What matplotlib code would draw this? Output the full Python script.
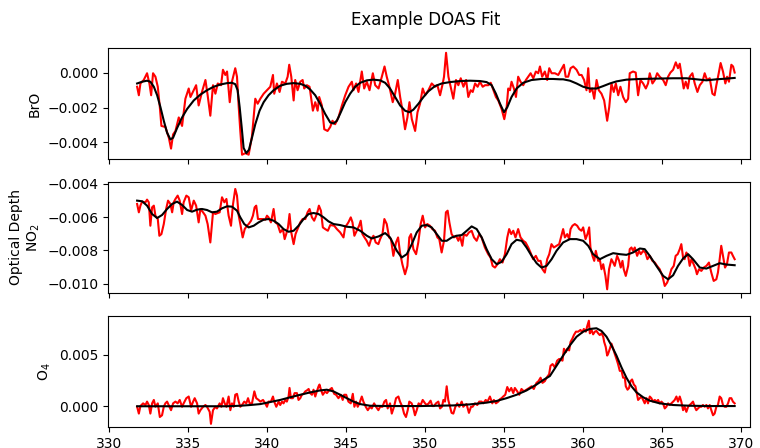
import numpy as np
import matplotlib
matplotlib.use("Agg")
import matplotlib.pyplot as plt

# values; y values in units of 1e-3
bro_meas_x = [331.75, 331.86, 331.96, 332.17, 332.38, 332.53, 332.64, 332.76, 332.91, 333.06,
              333.19, 333.29, 333.54, 333.76, 333.90, 334.03, 334.18, 334.39, 334.60, 334.81,
              335.02, 335.13, 335.34, 335.49, 335.65, 335.86, 336.08, 336.22, 336.39, 336.56,
              336.71, 336.86, 337.07, 337.19, 337.34, 337.45, 337.62, 337.76, 337.97, 338.08,
              338.19, 338.29, 338.40, 338.61, 338.82, 339.03, 339.24, 339.39, 339.56, 339.77,
              339.98, 340.19, 340.36, 340.44, 340.61, 340.78, 340.93, 341.14, 341.29, 341.39,
              341.52, 341.67, 341.77, 341.92, 342.09, 342.24, 342.34, 342.51, 342.68, 342.89,
              343.04, 343.19, 343.29, 343.46, 343.61, 343.82, 343.99,
              344.13, 344.30, 344.51, 344.73, 344.94, 345.15, 345.36, 345.46, 345.63, 345.78,
              345.99, 346.14, 346.31, 346.48, 346.69, 346.84, 347.05, 347.26, 347.43, 347.57,
              347.74, 347.95, 348.10, 348.27, 348.42, 348.57, 348.73, 348.88, 349.01, 349.16,
              349.37, 349.52, 349.68, 349.85, 350.00, 350.21, 350.42, 350.63, 350.78, 350.95,
              351.12, 351.20, 351.33, 351.48, 351.62, 351.79, 351.96, 352.11, 352.26, 352.43,
              352.60, 352.74, 352.89, 353.02, 353.17, 353.33, 353.48, 353.65, 353.80, 354.01,
              354.16, 354.33, 354.49, 354.64, 354.85, 355.02, 355.17, 355.27, 355.38, 355.48,
              355.63, 355.76, 355.90, 356.05, 356.22, 356.39, 356.54, 356.69, 356.86, 357.02,
              357.17, 357.28, 357.42, 357.59, 357.74, 357.87, 358.02, 358.23, 358.44,
              358.80, 358.91, 359.07, 359.22, 359.39, 359.60, 359.77, 359.92, 360.08, 360.23,
              360.34, 360.44, 360.59, 360.72, 360.87, 361.01, 361.18, 361.35, 361.54, 361.67,
              361.81, 361.96, 362.09, 362.24, 362.38, 362.55, 362.72, 362.87, 362.97, 363.18,
              363.35, 363.50, 363.65, 363.82, 363.99, 364.13, 364.24, 364.41, 364.56, 364.71,
              364.87, 365.09, 365.25, 365.40, 365.55, 365.72, 365.89, 366.03, 366.14, 366.27,
              366.39, 366.52, 366.65, 366.77, 366.94, 367.09, 367.26, 367.41, 367.58, 367.72,
              367.87, 368.04, 368.21, 368.35, 368.46, 368.61, 368.73, 368.88, 369.03, 369.14,
              369.26, 369.41, 369.52, 369.62]
bro_meas = [-0.80, -1.29, -0.61, -0.41, -0.02, -0.61, -1.29, -0.02, -0.22, -0.80,
            -1.98, -3.06, -3.12, -3.74, -4.37, -3.55, -3.35, -2.57, -3.06, -1.49,
            -0.90, -1.39, -1.00, -0.71, -1.88, -1.10, -0.41, -1.29, -2.47, -0.71,
            -1.20, -0.61, -0.71, 0.18, -0.12, 0.08, -1.69, -0.51, 0.27, -0.22,
            -1.98, -3.35, -4.72, -4.63, -4.72, -3.65, -1.49, -1.78, -1.49, -1.20,
            -1.00, -0.80, -0.12, -1.20, -0.61, -1.10, -0.51, -0.61, -0.22, 0.47,
            -0.22, -1.59, -0.41, -1.00, -0.51, -0.41, -0.90, -0.71, -0.80, -2.18,
            -1.69, -2.18, -1.39, -1.88, -3.25, -3.35, -3.12,
            -2.76, -2.96, -2.57, -1.88, -1.29, -0.80, -0.51, -1.00, -0.61, -1.10,
            0.08, -0.90, -0.51, -1.00, -0.02, -0.71, -0.90, -0.22, 0.37, -0.22,
            -0.80, -1.69, -1.20, -0.41, -1.39, -2.18, -3.25, -2.57, -1.69, -2.67,
            -3.35, -2.27, -1.78, -0.90, -1.29, -1.00, -0.61, -0.80, -0.71, -1.29,
            -0.61, -0.22, 1.16, -0.22, -0.80, -1.49, -0.41, -0.71, -0.31, -0.80,
            -0.41, -1.39, -1.00, -1.10, -0.61, -0.80, -0.51, -0.80, -0.71, -0.71,
            -0.57, -1.00, -1.39, -1.59, -2.08, -2.67, -1.98, -0.90, -1.00, -0.51,
            -0.90, -1.39, -0.22, -0.51, -0.71, -0.41, -0.22, -0.02, -0.31, 0.08,
            -0.02, 0.37, -0.22, 0.08, -0.41, 0.27, -0.02, -0.02, -0.12,
            0.47, -0.22, -0.22, 0.27, 0.37, 0.18, -0.12, -0.12, -0.41, -1.00,
            0.27, -1.10, -0.90, -1.49, -0.41, -1.00, -1.20, -1.59, -2.76, -1.98,
            -0.61, -1.10, -0.61, -1.29, -0.80, -1.39, -1.69, -1.49, -0.02, 0.08,
            0.02, -1.29, -0.41, -0.61, -0.90, -0.61, -0.02, -0.61, -0.41, -0.02,
            -0.22, -0.41, -0.71, -0.22, 0.02, 0.18, 0.61, 0.27, 0.53, -0.22,
            -0.90, -0.51, -0.90, -0.22, -0.02, -0.61, -1.10, -0.71, -0.51, -0.02,
            -0.41, -0.31, -1.20, -1.29, -0.71, -0.02, 0.57, 0.08, -0.61, -0.22,
            -0.51, 0.47, 0.37, 0.02]

bro_fit_x = [331.75, 332.07, 332.38, 332.59, 332.81, 333.02, 333.23, 333.44, 333.65, 333.86,
             334.03, 334.28, 334.60, 334.92, 335.34, 335.76, 336.18, 336.60, 337.03, 337.45,
             337.76, 337.97, 338.12, 338.25, 338.38, 338.50, 338.67, 338.84, 339.03, 339.24,
             339.51, 339.77, 340.08, 340.40, 340.82, 341.24, 341.67, 342.09, 342.41, 342.72,
             343.04, 343.35, 343.67, 343.99, 344.20, 344.41, 344.66, 344.94, 345.25, 345.57,
             345.89, 346.31, 346.73, 347.15, 347.47, 347.78, 348.10, 348.42, 348.73, 349.01,
             349.26, 349.58, 349.90, 350.21, 350.63, 351.06, 351.58, 352.22, 352.85, 353.48,
             353.90, 354.22, 354.49, 354.75, 355.00, 355.21, 355.48, 355.80, 356.22, 356.75,
             357.38, 358.12, 358.54, 358.75, 359.18, 359.60, 360.02, 360.44, 360.87, 361.29,
             361.71, 362.13, 362.76, 363.61, 364.66, 365.72, 366.56, 367.20, 367.83, 368.46,
             369.10, 369.62]
bro_fit = [-0.61, -0.51, -0.45, -0.51, -0.80, -1.29, -1.98, -2.76, -3.45, -3.84,
           -3.74, -3.19, -2.57, -2.08, -1.59, -1.25, -1.00, -0.80, -0.67, -0.59,
           -0.57, -0.65, -1.00, -1.98, -3.16, -4.33, -4.63, -4.43, -3.74, -2.96,
           -2.18, -1.69, -1.29, -1.00, -0.74, -0.63, -0.59, -0.63, -0.74, -0.96,
           -1.29, -1.78, -2.37, -2.86, -2.92, -2.76, -2.27, -1.69, -1.20, -0.80,
           -0.57, -0.43, -0.39, -0.43, -0.57, -0.90, -1.39, -1.88, -2.18, -2.27,
           -2.12, -1.78, -1.39, -1.06, -0.76, -0.61, -0.53, -0.47, -0.45, -0.47,
           -0.53, -0.71, -1.20, -1.78, -2.27, -1.98, -1.39, -0.90, -0.57, -0.41,
           -0.35, -0.35, -0.37, -0.37, -0.45, -0.61, -0.80, -0.90, -0.90, -0.76,
           -0.61, -0.49, -0.39, -0.35, -0.33, -0.31, -0.31, -0.37, -0.43, -0.37,
           -0.33, -0.29]

no2_meas_x = [331.75, 331.86, 331.96, 332.07, 332.28, 332.38, 332.49, 332.59, 332.70, 332.81,
              332.91, 333.06, 333.16, 333.29, 333.44, 333.59, 333.71, 333.86, 333.97, 334.07,
              334.18, 334.32, 334.45, 334.60, 334.70, 334.87, 335.02, 335.17, 335.34, 335.49,
              335.65, 335.76, 335.93, 336.08, 336.22, 336.39, 336.56, 336.71, 336.86, 336.98,
              337.13, 337.28, 337.41, 337.55, 337.70, 337.83, 337.97, 338.08, 338.19, 338.29,
              338.44, 338.57, 338.71, 338.82, 338.97, 339.09, 339.20, 339.30, 339.41, 339.56,
              339.73, 339.87, 339.98, 340.08, 340.23, 340.40, 340.51, 340.65, 340.82, 340.99,
              341.10, 341.20, 341.31, 341.41, 341.52, 341.67, 341.79, 341.92, 342.09, 342.24,
              342.41, 342.55, 342.68, 342.83, 342.97, 343.14, 343.27, 343.40, 343.52, 343.67,
              343.84, 343.99,
              344.24, 344.41, 344.62, 344.83, 344.93, 345.14, 345.29, 345.40, 345.52, 345.67,
              345.82, 345.92, 346.03, 346.16, 346.30, 346.45, 346.58, 346.73, 346.87, 347.04,
              347.15, 347.30, 347.42, 347.57, 347.72, 347.84, 347.99, 348.16, 348.29, 348.41,
              348.56, 348.73, 348.88, 349.00, 349.11, 349.26, 349.43, 349.57, 349.72, 349.85,
              350.00, 350.14, 350.31, 350.46, 350.63, 350.78, 350.90, 351.05, 351.20, 351.32,
              351.43, 351.54, 351.68, 351.83, 351.96, 352.11, 352.21, 352.36, 352.46, 352.63,
              352.78, 352.95, 353.10, 353.27, 353.43, 353.58, 353.79, 354.00, 354.15, 354.28,
              354.43, 354.59, 354.74, 354.91, 355.06, 355.21, 355.33, 355.46, 355.59, 355.73,
              355.90, 356.05, 356.22, 356.37, 356.54, 356.68, 356.85, 357.02, 357.17, 357.32,
              357.44, 357.59, 357.74, 357.87, 358.01, 358.16, 358.33, 358.50,
              358.75, 358.86, 359.01, 359.13, 359.22, 359.34, 359.49, 359.64, 359.77, 359.91,
              360.02, 360.17, 360.29, 360.40, 360.48, 360.61, 360.72, 360.82, 360.97, 361.07,
              361.18, 361.29, 361.43, 361.54, 361.66, 361.81, 361.92, 362.02, 362.17, 362.30,
              362.40, 362.51, 362.59, 362.72, 362.87, 362.97, 363.08, 363.18, 363.29, 363.44,
              363.56, 363.67, 363.82, 363.96, 364.09, 364.24, 364.41, 364.56, 364.70, 364.87,
              365.04, 365.19, 365.34, 365.46, 365.61, 365.76, 365.88, 366.01, 366.14, 366.24,
              366.35, 366.45, 366.56, 366.67, 366.77, 366.88, 367.02, 367.15, 367.23, 367.36,
              367.51, 367.66, 367.83, 367.99, 368.14, 368.29, 368.46, 368.56, 368.67, 368.77,
              368.88, 369.01, 369.13, 369.26, 369.41, 369.51, 369.62]
no2_meas = [-5.22, -5.72, -5.32, -5.08, -5.12, -4.96, -5.12, -6.52, -5.42, -5.32,
            -5.92, -6.12, -7.12, -7.02, -6.42, -5.52, -5.02, -5.22, -5.72, -5.12,
            -4.92, -4.72, -5.02, -5.82, -5.12, -4.72, -4.82, -5.62, -5.02, -5.32,
            -6.32, -5.52, -5.72, -5.92, -6.42, -7.52, -5.72, -5.82, -5.76, -5.72,
            -4.82, -5.12, -4.92, -5.92, -6.52, -5.22, -4.32, -4.72, -5.92, -6.42,
            -7.22, -6.72, -6.52, -6.42, -6.22, -5.92, -5.42, -5.32, -6.12, -6.12,
            -6.12, -6.16, -5.92, -6.02, -6.32, -5.52, -6.32, -6.42, -6.92, -6.72,
            -7.32, -7.02, -6.62, -5.82, -6.92, -7.62, -7.02, -6.72, -6.32, -6.12,
            -6.12, -5.72, -5.52, -6.02, -6.22, -5.82, -5.32, -5.62, -6.62, -6.72,
            -6.82, -6.48,
            -6.52, -6.72, -6.92, -7.22, -6.62, -6.32, -6.02, -6.32, -7.12, -6.82,
            -6.52, -6.22, -7.02, -7.22, -7.42, -7.72, -7.32, -7.12, -7.52, -7.62,
            -7.32, -7.02, -6.12, -6.42, -7.22, -7.32, -8.32, -7.52, -7.22, -8.12,
            -8.82, -9.42, -8.92, -7.22, -7.02, -7.92, -8.22, -7.52, -6.42, -5.92,
            -6.62, -6.42, -6.52, -6.72, -6.82, -7.22, -7.32, -8.12, -7.42, -5.72,
            -5.62, -6.32, -7.02, -7.22, -7.12, -7.42, -7.12, -7.72, -7.02, -7.12,
            -6.92, -6.82, -7.22, -7.42, -7.02, -7.22, -7.82, -8.22, -8.42, -8.92,
            -9.02, -8.82, -8.52, -8.72, -8.22, -7.22, -6.72, -7.02, -6.82, -7.22,
            -6.72, -7.22, -7.42, -7.52, -7.82, -8.12, -8.52, -8.32, -8.62, -8.62,
            -9.12, -9.32, -8.52, -8.22, -7.62, -7.82, -7.72, -7.62,
            -6.72, -7.22, -7.02, -7.32, -6.72, -6.52, -6.42, -6.52, -6.72, -6.82,
            -6.62, -7.32, -7.02, -6.62, -7.82, -8.32, -8.62, -8.02, -8.62, -8.52,
            -9.12, -8.82, -9.52, -10.32, -9.12, -8.52, -8.72, -8.92, -8.32, -8.62,
            -9.02, -8.62, -9.12, -9.52, -8.92, -7.92, -7.82, -8.02, -7.82, -8.32,
            -8.02, -8.22, -8.02, -8.12, -8.52, -8.32, -8.62, -8.72, -8.92, -9.12,
            -9.52, -10.12, -9.92, -9.62, -9.12, -8.92, -8.32, -8.22, -7.92, -7.62,
            -8.42, -8.52, -8.12, -8.32, -8.92, -8.52, -8.82, -9.12, -9.42, -9.12,
            -9.22, -9.02, -8.92, -8.72, -9.32, -9.82, -9.72, -9.32, -8.52, -7.72,
            -8.32, -9.02, -8.82, -8.12, -8.12, -8.32, -8.52]

no2_fit_x = [331.75, 332.07, 332.38, 332.70, 333.02, 333.33, 333.65, 333.97, 334.28, 334.60,
             334.92, 335.23, 335.55, 335.86, 336.18, 336.50, 336.81, 337.13, 337.45, 337.76,
             338.08, 338.29, 338.54, 338.82, 339.14, 339.45, 339.77, 340.08, 340.40, 340.72,
             341.03, 341.35, 341.67, 341.98, 342.30, 342.62, 342.93, 343.25, 343.57, 343.88,
             344.20, 344.62, 345.04, 345.46, 345.89, 346.31, 346.62, 347.05, 347.47, 347.78,
             348.21, 348.52, 348.84, 349.16, 349.47, 349.79, 350.11, 350.42, 350.74, 351.06,
             351.37, 351.69, 352.00, 352.32, 352.64, 352.95, 353.27, 353.59, 353.90, 354.22,
             354.54, 354.85, 355.17, 355.48, 355.80, 356.12, 356.43, 356.75, 357.07, 357.38,
             357.70, 358.02, 358.33, 358.75, 359.18, 359.60, 360.02, 360.34, 360.65, 361.08,
             361.50, 361.92, 362.34, 362.76, 363.18, 363.61, 363.92, 364.24, 364.66, 365.09,
             365.40, 365.72, 366.03, 366.35, 366.67, 366.98, 367.41, 367.83, 368.25, 368.67,
             369.10, 369.62]
no2_fit = [-5.02, -5.06, -5.32, -5.82, -6.06, -5.88, -5.52, -5.22, -5.08, -5.28,
           -5.58, -5.68, -5.56, -5.52, -5.58, -5.72, -5.68, -5.48, -5.36, -5.38,
           -5.62, -6.02, -6.42, -6.62, -6.52, -6.32, -6.16, -6.12, -6.22, -6.42,
           -6.72, -6.88, -6.82, -6.52, -6.12, -5.82, -5.76, -5.82, -6.02, -6.26,
           -6.42, -6.48, -6.58, -6.62, -6.82, -7.12, -7.28, -7.16, -6.96, -7.22,
           -8.02, -8.42, -8.22, -7.62, -6.92, -6.52, -6.48, -6.62, -7.02, -7.42,
           -7.42, -7.22, -7.12, -7.08, -6.82, -6.56, -6.72, -7.22, -7.92, -8.52,
           -8.82, -8.68, -8.22, -7.62, -7.36, -7.42, -7.82, -8.32, -8.76, -9.02,
           -8.92, -8.52, -8.02, -7.52, -7.32, -7.32, -7.42, -7.72, -8.22, -8.52,
           -8.32, -8.16, -8.22, -8.26, -8.12, -7.88, -7.92, -8.32, -8.92, -9.52,
           -9.72, -9.48, -8.92, -8.48, -8.22, -8.52, -9.02, -9.08, -8.92, -8.76,
           -8.84, -8.88]

o4_meas_x = [331.75, 331.86, 331.96, 332.13, 332.28, 332.38, 332.49, 332.59, 332.70, 332.81,
             332.91, 333.06, 333.19, 333.33, 333.44, 333.54, 333.65, 333.80, 333.90, 334.03,
             334.18, 334.32, 334.45, 334.60, 334.70, 334.87, 335.02, 335.17, 335.30, 335.40,
             335.55, 335.65, 335.76, 335.93, 336.08, 336.18, 336.35, 336.43, 336.56, 336.71,
             336.81, 336.98, 337.09, 337.19, 337.30, 337.41, 337.55, 337.66, 337.76, 337.87,
             337.97, 338.08, 338.19, 338.29, 338.40, 338.54, 338.67, 338.78, 338.88, 339.03,
             339.18, 339.30, 339.45, 339.56, 339.73, 339.87, 339.98, 340.08, 340.23, 340.36,
             340.44, 340.57, 340.72, 340.82, 340.93, 341.03, 341.14, 341.24, 341.35, 341.41,
             341.50, 341.62, 341.73, 341.88, 341.98, 342.09, 342.19, 342.30, 342.41, 342.51,
             342.62, 342.72, 342.83, 342.93, 343.04, 343.14, 343.25, 343.31, 343.40, 343.52,
             343.67, 343.78, 343.95,
             344.09, 344.24, 344.36, 344.51, 344.66, 344.78, 344.87, 345.00, 345.14, 345.29,
             345.42, 345.52, 345.63, 345.73, 345.84, 345.99, 346.09, 346.24, 346.37, 346.51,
             346.62, 346.77, 346.89, 347.04, 347.15, 347.30, 347.42, 347.53, 347.63, 347.78,
             347.89, 348.03, 348.16, 348.31, 348.41, 348.56, 348.67, 348.79, 348.90, 349.00,
             349.15, 349.26, 349.36, 349.47, 349.59, 349.72, 349.85, 350.00, 350.10, 350.23,
             350.35, 350.46, 350.57, 350.69, 350.84, 350.95, 351.07, 351.16, 351.26, 351.37,
             351.47, 351.58, 351.68, 351.79, 351.92, 352.04, 352.17, 352.32, 352.42, 352.53,
             352.63, 352.78, 352.91, 353.01, 353.16, 353.31, 353.43, 353.58, 353.69, 353.84,
             353.96, 354.11, 354.26, 354.36, 354.49, 354.64, 354.74, 354.85, 354.95, 355.08,
             355.21, 355.33, 355.46, 355.59, 355.69, 355.84, 355.97, 356.11, 356.26, 356.43,
             356.60, 356.75, 356.89, 357.06, 357.19, 357.32, 357.44, 357.59, 357.70, 357.86,
             357.95, 358.08, 358.22, 358.37, 358.50,
             358.71, 358.80, 358.92, 359.01, 359.13, 359.22, 359.34, 359.43, 359.56, 359.70,
             359.85, 359.96, 360.06, 360.19, 360.27, 360.38, 360.44, 360.55, 360.65, 360.76,
             360.86, 360.97, 361.07, 361.18, 361.29, 361.35, 361.45, 361.54, 361.60, 361.71,
             361.81, 361.92, 362.02, 362.13, 362.23, 362.34, 362.45, 362.55, 362.66, 362.72,
             362.83, 362.93, 363.02, 363.12, 363.23, 363.33, 363.44, 363.50, 363.61, 363.71,
             363.82, 363.92, 364.03, 364.13, 364.24, 364.34, 364.45, 364.56, 364.66, 364.77,
             364.87, 364.98, 365.08, 365.19, 365.29, 365.40, 365.50, 365.61, 365.72, 365.82,
             365.93, 366.03, 366.14, 366.24, 366.35, 366.45, 366.56, 366.67, 366.77, 366.88,
             366.98, 367.09, 367.19, 367.30, 367.40, 367.51, 367.61, 367.72, 367.83, 367.93,
             368.04, 368.14, 368.25, 368.35, 368.46, 368.56, 368.67, 368.77, 368.88, 368.99,
             369.09, 369.20, 369.30, 369.41, 369.51, 369.62]
o4_meas = [-0.05, -0.71, 0.02, 0.28, 0.12, 0.45, 0.12, -0.71, 0.28, 0.61,
           -0.05, 0.28, -1.04, -0.87, -0.05, 0.28, 0.45, -0.05, -0.38, 0.28,
           0.45, 0.28, 0.61, -0.05, 0.28, 0.78, 0.94, -0.05, 0.45, 0.78,
           0.28, -0.71, -0.38, -0.05, 0.12, -0.05, -0.54, -1.70, -0.38, -0.05,
           -0.21, 0.28, -0.05, 0.78, 0.28, -0.05, 0.94, -0.38, 0.28, -0.05,
           1.11, 1.20, 0.45, -0.05, 0.12, 0.45, 0.28, 0.78, 0.28, 0.28,
           1.44, 0.78, 0.61, 0.45, 0.61, 0.28, -0.05, 0.45, 0.45, 0.94,
           0.45, -0.05, 0.45, 0.12, 0.45, 0.28, 0.61, 0.45, 0.94, 1.77,
           0.78, 0.78, 1.27, 1.27, 0.61, 0.78, 1.11, 1.20, 1.44, 1.53,
           1.67, 1.27, 1.11, 1.60, 0.94, 1.44, 1.93, 2.10, 1.60, 1.11,
           1.44, 1.27, 1.60,
           1.77, 1.20, 1.11, 0.78, 1.11, 0.61, 1.11, 1.11, 0.45, 0.28,
           1.20, -0.05, 0.45, -0.05, 0.28, 0.94, 0.45, -0.05, -0.38, -0.05,
           -0.21, 0.28, -0.05, -0.38, -0.05, -0.05, 0.45, 0.61, -0.21, 0.28,
           -0.71, -0.05, 0.78, 0.94, 0.45, -0.05, -0.71, -1.04, -0.38, 0.45,
           0.28, -0.21, -0.87, -0.38, 0.28, 0.12, 0.61, 0.28, 0.12, 0.28,
           0.54, 0.02, 0.02, 0.28, 0.45, -0.21, -0.05, 0.61, 0.45, 1.93,
           0.61, -0.05, -0.64, -0.71, -0.05, 0.28, -0.05, 0.45, -0.05, 0.12,
           0.21, -0.64, -0.05, -0.05, 0.28, 0.12, 0.45, 0.45, 0.28, 0.61,
           0.45, 0.94, 0.28, 0.61, 0.28, 0.45, 0.68, 0.78, 0.94, 1.11,
           1.86, 1.44, 1.77, 1.27, 1.77, 1.44, 1.11, 1.67, 1.44, 1.60,
           1.77, 1.93, 1.67, 2.26, 2.43, 2.76, 2.26, 2.43, 2.76, 3.09,
           3.91, 4.08, 3.75, 4.41, 4.57,
           4.41, 5.56, 5.23, 5.56, 5.40, 6.22, 6.55, 6.88, 7.21, 7.21,
           7.38, 7.14, 7.47, 7.21, 7.71, 8.27, 7.05, 7.38, 6.95, 7.21,
           7.28, 7.05, 6.88, 7.05, 6.72, 6.22, 5.73, 4.90, 5.07, 5.56,
           6.06, 5.56, 5.07, 4.57, 4.08, 3.42, 3.42, 2.76, 2.76, 1.93,
           1.60, 1.77, 2.43, 2.59, 2.10, 1.93, 1.11, 0.61, 0.78, 0.94,
           0.61, 0.28, 0.78, 0.28, 0.94, 0.78, 0.45, 0.61, 0.45, 0.61,
           0.28, 0.45, 0.28, -0.21, -0.05, 0.28, 0.12, 0.28, 0.45, 0.61,
           0.94, 0.45, 0.94, 0.45, -0.38, -0.05, -0.54, -0.05, 0.12, 0.28,
           0.45, -0.05, -0.38, -0.21, -0.05, -0.05, 0.12, -0.05, 0.12, -0.21,
           0.12, -0.38, -0.87, -0.71, -0.05, 0.12, 0.94, 0.78, 0.12, -0.05,
           -0.05, 0.28, 0.78, 0.78, 0.45, 0.28]

o4_fit_x = [331.75, 333.65, 335.76, 337.45, 338.29, 338.92, 339.56, 340.19, 340.82, 341.46,
            342.09, 342.72, 343.35, 343.77, 344.19, 344.62, 345.04, 345.46, 345.88, 346.51,
            347.57, 348.62, 349.68, 350.73, 351.79, 352.84, 353.90, 354.53, 355.16, 355.80,
            356.43, 357.06, 357.50, 357.91, 358.33, 358.75, 359.18, 359.60, 360.02, 360.44,
            360.86, 361.18, 361.50, 361.81, 362.13, 362.45, 362.76, 363.08, 363.40, 363.82,
            364.24, 364.87, 365.72, 366.77, 368.04, 369.62]
o4_fit = [0.0, 0.0, 0.0, 0.0, 0.05, 0.12, 0.21, 0.41, 0.61, 0.87,
          1.11, 1.34, 1.53, 1.60, 1.44, 1.11, 0.78, 0.45, 0.21, 0.05,
          0.02, 0.02, 0.02, 0.05, 0.08, 0.18, 0.35, 0.51, 0.78, 1.11,
          1.53, 2.10, 2.55, 2.92, 3.91, 4.90, 5.89, 6.72, 7.21, 7.47,
          7.54, 7.28, 6.72, 5.89, 4.90, 3.75, 2.76, 1.93, 1.34, 0.87,
          0.54, 0.28, 0.12, 0.05, 0.02, 0.02]

panels = [
    ("BrO", bro_meas_x, bro_meas, bro_fit_x, bro_fit, (-4.97, 1.44), [-4, -2, 0]),
    ("Optical Depth\nNO$_2$", no2_meas_x, no2_meas, no2_fit_x, no2_fit, (-10.54, -3.90), [-10, -8, -6, -4]),
    ("O$_4$", o4_meas_x, o4_meas, o4_fit_x, o4_fit, (-2.0, 8.74), [0, 5]),
]

fig = plt.figure(figsize=(7.6, 4.48), dpi=100)
bottoms = [0.645, 0.346, 0.047]
axes = []
for i, (label, mx, my, fx, fy, ylim, yt) in enumerate(panels):
    ax = fig.add_axes([0.142, bottoms[i], 0.845, 0.248],
                      sharex=axes[0] if axes else None)
    ax.plot(mx, np.array(my) * 1e-3, color="red", lw=1.5)
    ax.plot(fx, np.array(fy) * 1e-3, color="black", lw=1.5)
    ax.set_ylim(ylim[0] * 1e-3, ylim[1] * 1e-3)
    ax.set_yticks(np.array(yt) * 1e-3)
    ax.set_ylabel(label)
    if i < 2:
        ax.tick_params(labelbottom=False)
    axes.append(ax)

axes[0].set_xlim(329.9, 370.6)
axes[-1].set_xticks(np.arange(330, 371, 5))
fig.suptitle("Example DOAS Fit", x=0.56, y=0.975)

fig.savefig("out.png", dpi=100)
